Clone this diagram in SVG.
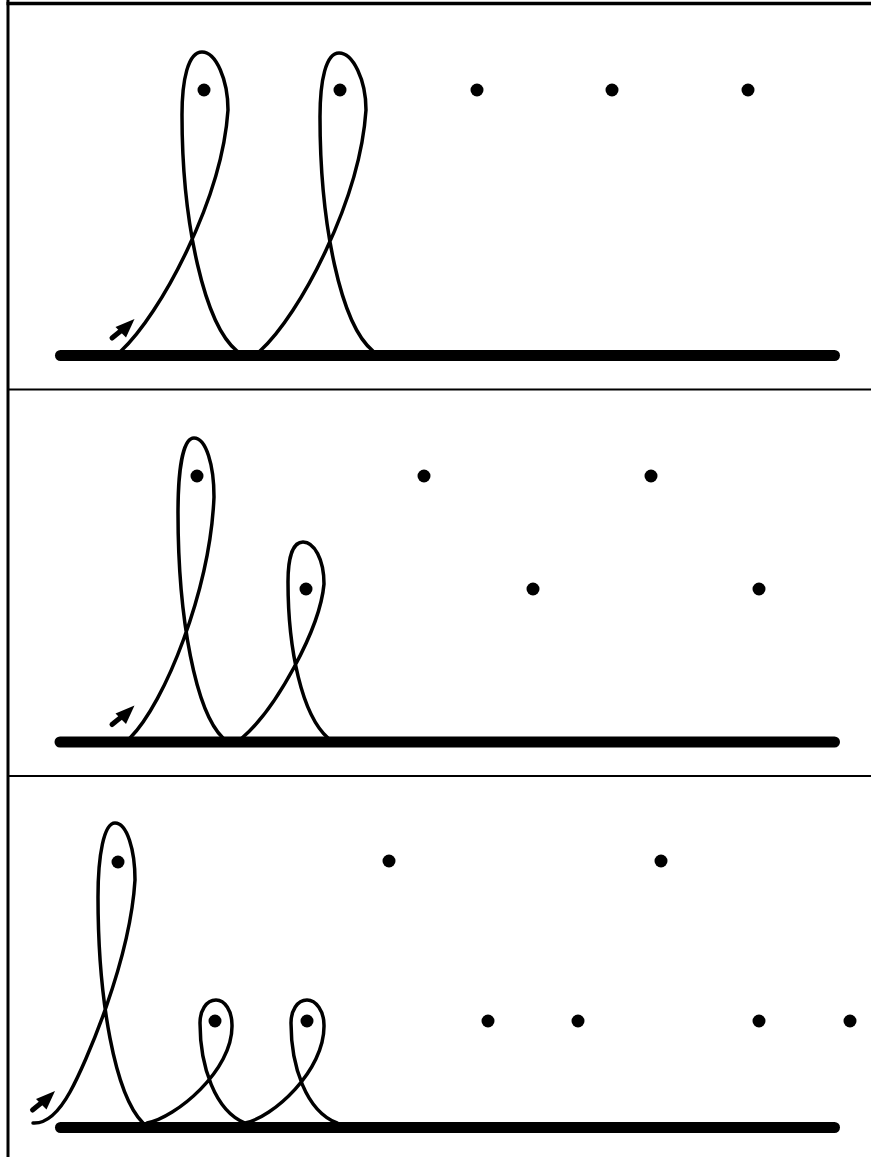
<svg xmlns="http://www.w3.org/2000/svg" width="871" height="1157" viewBox="0 0 871 1157">
<style>
.frame{stroke:#000;fill:none}
.ground{stroke:#000;stroke-width:11;stroke-linecap:round;fill:none}
.curve{stroke:#000;stroke-width:3.5;fill:none;stroke-linejoin:round;stroke-linecap:round}
.dot{fill:#000}
</style>
<defs>
<g id="arrow">
<line x1="-22.5" y1="19" x2="-12" y2="10.5" stroke="#000" stroke-width="5" stroke-linecap="round"/>
<polygon points="0,0 -19,8 -8.5,18.5" fill="#000"/>
</g>
</defs>
<rect width="871" height="1157" fill="#fff"/>
<g id="frame">
<line class="frame" x1="8" y1="0" x2="8" y2="1157" stroke-width="3"/>
<line class="frame" x1="6.5" y1="3.5" x2="871" y2="3.5" stroke-width="3.5"/>
<line class="frame" x1="8" y1="389.5" x2="871" y2="389.5" stroke-width="2.2"/>
<line class="frame" x1="8" y1="776" x2="871" y2="776" stroke-width="2.2"/>
</g>
<g id="connectors">
<path id="curve1" class="curve" d="M121,351 C160,315 222,200 228,110 C228,80 216,52 202,52 C188,52 182,80 182,115 C182,225 205,325 237,351 C244,358 253,358 260,351 C300,315 360,200 366,110 C366,80 353,53 339,53 C326,53 320,80 320,117 C320,225 341,325 373,351"/>
<path id="curve2" class="curve" d="M130,738 C165,703 210,590 214,497 C214,465 206,438 194,438 C183,438 178,470 178,513 C178,620 196,712 223,738 C229,744 236,744 242,738 C276,709 320,629 324,584 C324,559 314,542 303,542 C292,542 288,560 288,582 C288,650 302,715 328,738"/>
<path id="curve3" class="curve" d="M33,1123 C48,1124 60,1110 70,1092 C85,1065 130,962 135,880 C135,850 127,823 115,823 C104,823 98,855 98,897 C98,1000 115,1095 143,1123 C145,1126 146,1126 147,1123 C175,1118 233,1071 232,1025 C232,1011 225,1000 216,1000 C206,1000 200,1011 200,1023 C200,1066 215,1111 245,1123 C272,1118 325,1071 324,1025 C324,1011 316,1000 307,1000 C297,1000 291,1011 291,1023 C291,1066 306,1111 337,1123"/>
<use href="#arrow" x="134.5" y="319"/>
<use href="#arrow" x="134.5" y="705.5"/>
<use href="#arrow" x="55" y="1091"/>
</g>
<g id="panel1">
<line class="ground" x1="60.5" y1="355.5" x2="834.5" y2="355.5"/>
<circle class="dot" cx="204" cy="90" r="6.5"/>
<circle class="dot" cx="340" cy="90" r="6.5"/>
<circle class="dot" cx="477" cy="90" r="6.5"/>
<circle class="dot" cx="612" cy="90" r="6.5"/>
<circle class="dot" cx="748" cy="90" r="6.5"/>
</g>
<g id="panel2">
<line class="ground" x1="60" y1="742" x2="834.5" y2="742"/>
<circle class="dot" cx="197" cy="476" r="6.5"/>
<circle class="dot" cx="424" cy="476" r="6.5"/>
<circle class="dot" cx="651" cy="476" r="6.5"/>
<circle class="dot" cx="306" cy="589" r="6.5"/>
<circle class="dot" cx="533" cy="589" r="6.5"/>
<circle class="dot" cx="759" cy="589" r="6.5"/>
</g>
<g id="panel3">
<line class="ground" x1="60.5" y1="1127.5" x2="834.5" y2="1127.5"/>
<circle class="dot" cx="118" cy="862" r="6.5"/>
<circle class="dot" cx="389" cy="861" r="6.5"/>
<circle class="dot" cx="661" cy="861" r="6.5"/>
<circle class="dot" cx="215" cy="1021" r="6.5"/>
<circle class="dot" cx="307" cy="1021" r="6.5"/>
<circle class="dot" cx="488" cy="1021" r="6.5"/>
<circle class="dot" cx="578" cy="1021" r="6.5"/>
<circle class="dot" cx="759" cy="1021" r="6.5"/>
<circle class="dot" cx="850" cy="1021" r="6.5"/>
</g>
</svg>
